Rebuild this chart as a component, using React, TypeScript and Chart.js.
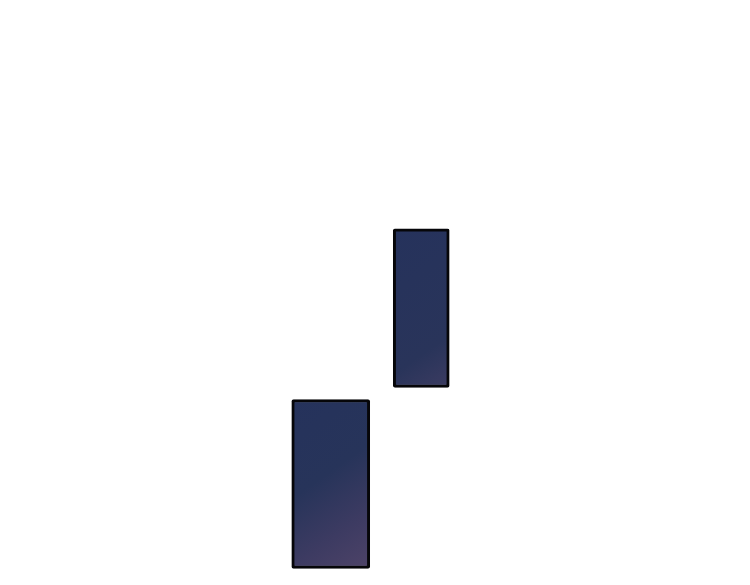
import * as React from 'react';
import { Chart, registerables } from 'chart.js';

Chart.register(...registerables);

// categories on the hidden x axis, only two of them hold a bar
const categories = ['1', '2', '3', '4', '5', '6', '7', '8'];
const firstIndex = 3;
const secondIndex = 4;
// floating ranges [low, high] on the hidden y axis (0..100)
const firstRange: [number, number] = [1.5, 31.2];
const secondRange: [number, number] = [33.3, 61.2];

const toSeries = (index: number, range: [number, number]) =>
  categories.map((_, i) => (i === index ? range : null));

// gradient per bar, running from top-left to bottom-right of its own box
const makeGradient = (stops: [number, string][], half: number) => (ctx: any) => {
  const chart = ctx.chart;
  const raw = ctx.raw;
  if (!chart.chartArea || !raw) return stops[0][1];
  const x = chart.scales.x.getPixelForValue(ctx.dataIndex);
  const top = chart.scales.y.getPixelForValue(raw[1]);
  const bottom = chart.scales.y.getPixelForValue(raw[0]);
  const g = chart.ctx.createLinearGradient(x - half, top, x + half, bottom);
  stops.forEach(([o, c]) => g.addColorStop(o, c));
  return g;
};

const App = () => {
  const chartRef = React.useRef<HTMLCanvasElement>(null);

  React.useEffect(() => {
    if (chartRef.current === null) return;
    const chart: any = new Chart(chartRef.current, {
      type: 'bar',
      data: {
        labels: categories,
        datasets: [
          {
            data: toSeries(firstIndex, firstRange) as any,
            barThickness: 78,
            backgroundColor: makeGradient(
              [
                [0, '#25325c'],
                [0.45, '#27345a'],
                [0.72, '#3d3b62'],
                [1, '#524569'],
              ],
              60,
            ),
          },
          {
            data: toSeries(secondIndex, secondRange) as any,
            barThickness: 56,
            backgroundColor: makeGradient(
              [
                [0, '#25325c'],
                [0.7, '#29345a'],
                [0.88, '#383a60'],
                [1, '#504468'],
              ],
              55,
            ),
          },
        ],
      },
      options: {
        animation: false,
        responsive: true,
        maintainAspectRatio: false,
        layout: { padding: { left: 6, right: 4, top: 0, bottom: 0 } },
        datasets: {
          bar: {
            grouped: false,
            borderColor: '#060609',
            borderWidth: 3,
            borderRadius: 2,
            borderSkipped: false,
          },
        },
        plugins: {
          legend: { display: false },
          tooltip: { enabled: false },
        },
        scales: {
          x: { display: false },
          y: { display: false, min: 0, max: 100 },
        },
      },
    });

    return () => {
      chart.destroy();
    };
  }, []);

  return (
    <div style={{ width: 734, height: 569, position: 'relative' }}>
      <canvas ref={chartRef} />
    </div>
  );
};

export default App;
